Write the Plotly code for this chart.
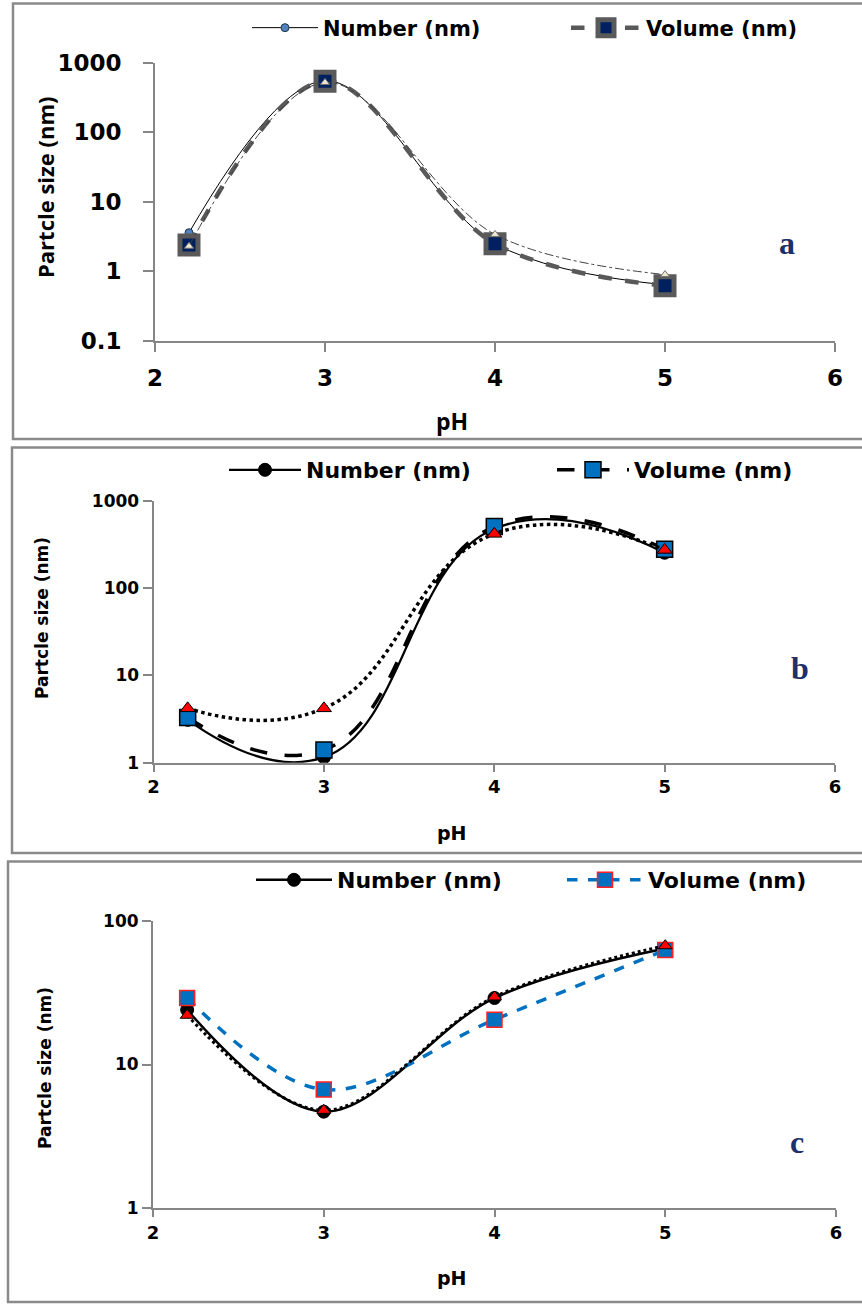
import plotly.graph_objects as go

W, H = 862, 1305

# ---------------- data ----------------
ph = [2.2, 3, 4, 5]

a_number = [3.6, 550, 2.5, 0.64]
a_volume = [2.4, 540, 2.5, 0.62]
a_third = [2.3, 520, 3.4, 0.9]

b_number = [3.1, 1.15, 480, 255]
b_volume = [3.3, 1.4, 510, 280]
b_third = [4.2, 4.2, 420, 275]

c_number = [24, 4.7, 29, 64]
c_volume = [29, 6.7, 20.5, 62.5]
c_third = [22, 4.8, 29.5, 67]

x_ticks = [2, 3, 4, 5, 6]
a_yticks = [0.1, 1, 10, 100, 1000]
b_yticks = [1, 10, 100, 1000]
c_yticks = [1, 10, 100]

series_names = ["Number (nm)", "Volume (nm)"]
y_title = "Partcle size (nm)"
x_title = "pH"
panel_labels = ["a", "b", "c"]


def fx(p):
    return p / W


def fy(p):
    return 1 - p / H


fig = go.Figure()

AX = "#868686"
DJ = "DejaVu Sans"
OS = "Open Sans"


def add(x, y, xa, ya, legend, name, showlegend, line, marker, smoothing=1.0):
    fig.add_trace(go.Scatter(
        x=x, y=y, xaxis=xa, yaxis=ya, legend=legend, name=name,
        showlegend=showlegend, mode="lines+markers",
        line=dict(shape="spline", smoothing=smoothing, **line),
        marker=marker, hoverinfo="x+y"))


# ---- panel a ----
add(ph, a_number, "x", "y", "legend", series_names[0], True,
    dict(color="black", width=1),
    dict(symbol="circle", size=8, color="#4F81BD", line=dict(color="#1F3550", width=1)))
add(ph, a_volume, "x", "y", "legend2", series_names[1], True,
    dict(color="#595959", width=4.5, dash="dash"),
    dict(symbol="square", size=18, color="#002060", line=dict(color="#5A5A5A", width=5)))
add(ph, a_third, "x", "y", "legend", "Third", False,
    dict(color="#404040", width=1, dash="dashdot"),
    dict(symbol="triangle-up", size=8, color="#EEE8D0", line=dict(color="#707070", width=1)))

# ---- panel b ----
add(ph, b_number, "x2", "y2", "legend3", series_names[0], True,
    dict(color="black", width=2.2),
    dict(symbol="circle", size=13, color="black", line=dict(color="black", width=1)), 1.3)
add(ph, b_volume, "x2", "y2", "legend4", series_names[1], True,
    dict(color="black", width=3.5, dash="longdash"),
    dict(symbol="square", size=16, color="#0070C0", line=dict(color="black", width=1.5)), 1.3)
add(ph, b_third, "x2", "y2", "legend3", "Third", False,
    dict(color="black", width=3.5, dash="dot"),
    dict(symbol="triangle-up", size=13, color="#FF0000", line=dict(color="black", width=1)), 1.3)

# ---- panel c ----
add(ph, c_number, "x3", "y3", "legend5", series_names[0], True,
    dict(color="black", width=2.5),
    dict(symbol="circle", size=13, color="black", line=dict(color="black", width=1)))
add(ph, c_volume, "x3", "y3", "legend6", series_names[1], True,
    dict(color="#0070C0", width=3.5, dash="dash"),
    dict(symbol="square", size=15, color="#0070C0", line=dict(color="#FF2020", width=1.5)))
add(ph, c_third, "x3", "y3", "legend5", "Third", False,
    dict(color="black", width=3, dash="dot"),
    dict(symbol="triangle-up", size=12, color="#FF0000", line=dict(color="black", width=1)))


def xaxis(dom, anchor, size, ticklen, standoff):
    return dict(domain=dom, anchor=anchor, range=[2, 6], tickvals=x_ticks,
                ticktext=[f"<b>{v}</b>" for v in x_ticks],
                showline=True, linecolor=AX, linewidth=2, ticks="outside",
                tickcolor=AX, ticklen=ticklen, tickwidth=2, showgrid=False, zeroline=False,
                automargin=False, ticklabelstandoff=standoff,
                tickfont=dict(family=DJ, size=size, color="black"))


def yaxis(dom, anchor, rng, vals, size, ticklen, standoff):
    return dict(domain=dom, anchor=anchor, type="log", range=rng, tickvals=vals,
                ticktext=[f"<b>{v:g}</b>" for v in vals],
                showline=True, linecolor=AX, linewidth=2, ticks="outside",
                tickcolor=AX, ticklen=ticklen, tickwidth=2, showgrid=False, zeroline=False,
                automargin=False, ticklabelstandoff=standoff,
                tickfont=dict(family=DJ, size=size, color="black"))


def leg(x, y, size, iw):
    return dict(orientation="h", x=fx(x), y=fy(y), xanchor="left", yanchor="middle",
                font=dict(family=DJ, size=size, color="black", weight="bold"),
                bgcolor="rgba(0,0,0,0)", itemwidth=iw)


fig.update_layout(
    width=W, height=H, margin=dict(l=0, r=0, t=0, b=0),
    paper_bgcolor="white", plot_bgcolor="white",
    xaxis=xaxis([fx(155), fx(835)], "y", 23, 9, 6),
    yaxis=yaxis([fy(341), fy(62.7)], "x", [-1, 3], a_yticks, 23, 10, 17),
    xaxis2=xaxis([fx(153.6), fx(835)], "y2", 18, 7, 0),
    yaxis2=yaxis([fy(762.7), fy(501)], "x2", [0, 3], b_yticks, 17, 9, 0),
    xaxis3=xaxis([fx(153), fx(836)], "y3", 18, 7, 0),
    yaxis3=yaxis([fy(1208.3), fy(920.7)], "x3", [0, 2], c_yticks, 17, 9, 0),
    legend=leg(247, 28, 21, 66),
    legend2=leg(566, 28, 21, 70),
    legend3=leg(224, 470, 22, 72),
    legend4=leg(552, 470, 22, 72),
    legend5=leg(251, 880, 22, 76),
    legend6=leg(562, 880, 22, 76),
)

# panel borders
for (l, t, b) in [(13, 3.5, 439), (12, 447.5, 853), (8, 861.5, 1302)]:
    fig.add_shape(type="rect", xref="paper", yref="paper",
                  x0=fx(l), x1=fx(875), y0=fy(b), y1=fy(t),
                  line=dict(color="#8A8A8A", width=2.5), layer="below")

# axis titles and panel letters
ann = []
for (xx, yy, fam, size) in [(45, 188, OS, 22), (42, 618, DJ, 17), (45, 1068, DJ, 17)]:
    ann.append(dict(x=fx(xx), y=fy(yy), xref="paper", yref="paper", text=f"<b>{y_title}</b>",
                    textangle=-90, showarrow=False, xanchor="center", yanchor="middle",
                    font=dict(family=fam, size=size, color="black")))
for (xx, yy, fam, size) in [(452, 421, OS, 23), (452, 833, DJ, 19), (452, 1278, DJ, 19)]:
    ann.append(dict(x=fx(xx), y=fy(yy), xref="paper", yref="paper", text=f"<b>{x_title}</b>",
                    showarrow=False, xanchor="center", yanchor="middle",
                    font=dict(family=fam, size=size, color="black")))
for lab, (xx, yy) in zip(panel_labels, [(787, 243), (800, 668), (797, 1142)]):
    ann.append(dict(x=fx(xx), y=fy(yy), xref="paper", yref="paper", text=f"<b>{lab}</b>",
                    showarrow=False, xanchor="center", yanchor="middle",
                    font=dict(family="Liberation Serif", size=32, color="#1F2F6B")))
fig.update_layout(annotations=ann)

fig.write_html("out.html", config={"displayModeBar": False},
               post_script="document.body.style.margin='0px';")
